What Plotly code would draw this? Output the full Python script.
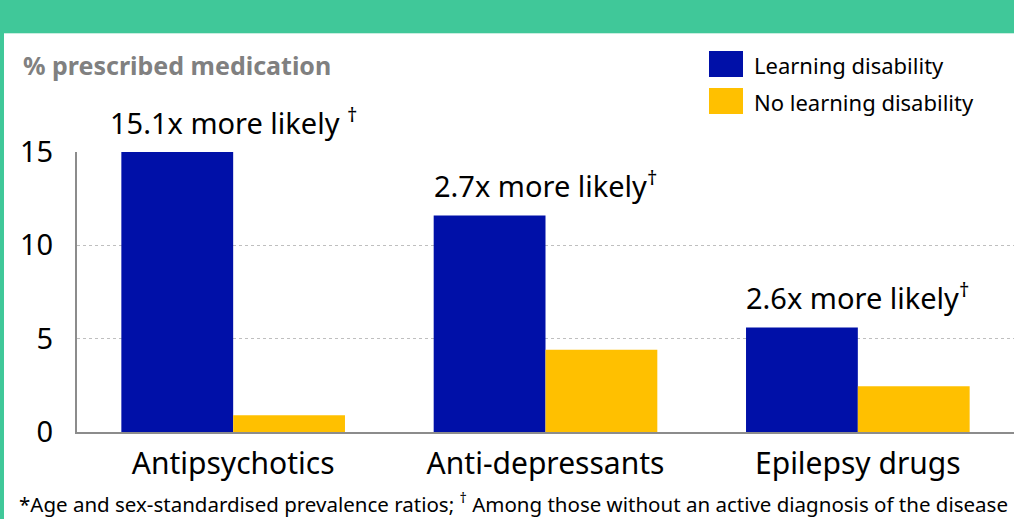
import plotly.graph_objects as go

categories = ["Antipsychotics", "Anti-depressants", "Epilepsy drugs"]
ld_values = [15.0, 11.6, 5.6]
no_ld_values = [0.9, 4.4, 2.45]
ratio_labels = ["15.1x more likely <sup>†</sup>", "2.7x more likely<sup>†</sup>", "2.6x more likely<sup>†</sup>"]
y_ticks = [0, 5, 10, 15]
series_names = ["Learning disability", "No learning disability"]

BLUE = "#0010A8"
YELLOW = "#FFC000"
GREEN = "#40C899"
FONT = "Noto Sans, Open Sans, sans-serif"

fig = go.Figure()
fig.add_trace(go.Bar(x=categories, y=ld_values, name=series_names[0],
                     marker=dict(color=BLUE, line=dict(width=0)), showlegend=False))
fig.add_trace(go.Bar(x=categories, y=no_ld_values, name=series_names[1],
                     marker=dict(color=YELLOW, line=dict(width=0)), showlegend=False))

fig.update_layout(
    width=1014, height=519,
    margin=dict(l=77, r=0, t=152, b=87),
    paper_bgcolor="white", plot_bgcolor="white",
    barmode="group", bargap=0.284, bargroupgap=0,
    font=dict(family=FONT, color="black"),
)
fig.update_xaxes(range=[-0.5, 2.5], showgrid=False, showline=True, linecolor="#8C8C8C", linewidth=2,
                 ticks="", tickfont=dict(size=30, family=FONT, color="black"), ticklabelstandoff=4)
fig.update_yaxes(range=[0, 15], tickvals=y_ticks, showgrid=True, gridcolor="#BFBFBF", griddash="dot",
                 gridwidth=1, zeroline=False, showline=True, linecolor="#8C8C8C", linewidth=2,
                 ticks="", tickfont=dict(size=29, family=FONT, color="black"), ticklabelstandoff=16)

# header band and frame
fig.add_shape(type="rect", xref="paper", yref="paper", x0=-77/937, x1=1.01, y0=1 + 119/280, y1=1 + 160/280,
              fillcolor=GREEN, line=dict(width=0), layer="above")
fig.add_shape(type="rect", xref="paper", yref="paper", x0=-77/937, x1=1.01, y0=1 + 118/280, y1=1 + 119/280,
              fillcolor="#C8EEE0", line=dict(width=0), layer="above")
fig.add_shape(type="rect", xref="paper", yref="paper", x0=-77/937, x1=-73/937, y0=-1, y1=2,
              fillcolor=GREEN, line=dict(width=0), layer="above")

# ratio annotations
for c, v, t in zip(categories, ld_values, ratio_labels):
    fig.add_annotation(x=c, y=v, text=t, showarrow=False, yanchor="bottom", yshift=8,
                       font=dict(size=29, family=FONT, color="black"))

# y-axis title
fig.add_annotation(xref="paper", yref="paper", x=-56/937, y=1 + 87/280, text="<b>% prescribed medication</b>",
                   showarrow=False, xanchor="left", yanchor="middle",
                   font=dict(size=25, family=FONT, color="#808080"))

# legend (custom)
legend_colors = [BLUE, YELLOW]
legend_tops = [51, 88]
for name, col, top in zip(series_names, legend_colors, legend_tops):
    fig.add_shape(type="rect", xref="paper", yref="paper",
                  x0=(709 - 77) / 937, x1=(743 - 77) / 937,
                  y0=1 + (152 - top - 26) / 280, y1=1 + (152 - top) / 280,
                  fillcolor=col, line=dict(width=0))
    fig.add_annotation(xref="paper", yref="paper", x=(752 - 77) / 937, y=1 + (152 - top - 14) / 280,
                       text=name, showarrow=False, xanchor="left", yanchor="middle",
                       font=dict(size=22, family=FONT, color="black"))

# footnote
fig.add_annotation(xref="paper", yref="paper", x=-60/937, y=-(503 - 432) / 280,
                   text="*Age and sex-standardised prevalence ratios; <sup>†</sup> Among those without an active diagnosis of the disease",
                   showarrow=False, xanchor="left", yanchor="middle",
                   font=dict(size=20.5, family=FONT, color="black"))

fig.write_html("out.html")
